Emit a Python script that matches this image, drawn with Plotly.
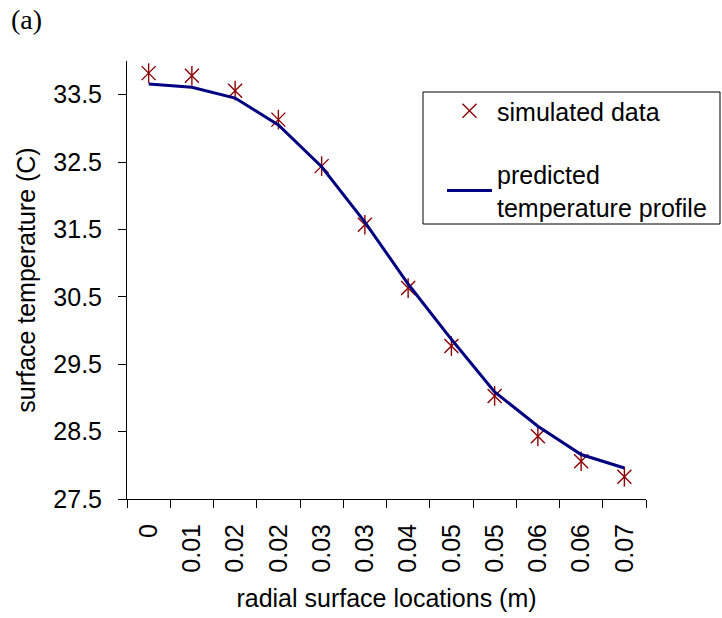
import plotly.graph_objects as go

# ---- data ----
x_labels = ["0", "0.01", "0.02", "0.02", "0.03", "0.03", "0.04", "0.05", "0.05", "0.06", "0.06", "0.07"]
simulated = [33.82, 33.78, 33.56, 33.13, 32.44, 31.57, 30.63, 29.77, 29.03, 28.43, 28.06, 27.83]
predicted = [33.66, 33.61, 33.45, 33.05, 32.43, 31.61, 30.69, 29.87, 29.09, 28.58, 28.16, 27.96]
y_ticks = [27.5, 28.5, 29.5, 30.5, 31.5, 32.5, 33.5]

pos = list(range(len(x_labels)))
bounds = [p - 0.5 for p in pos] + [pos[-1] + 0.5]

FONT = "Liberation Sans, Arial, sans-serif"
FS = 25
RED = "#8B0000"
NAVY = "#000080"

fig = go.Figure()
fig.add_trace(go.Scatter(
    x=pos, y=simulated, mode="markers", name="simulated data",
    legendgroup="a",
    marker=dict(symbol="x-thin-open", size=14, color=RED,
                line=dict(color=RED, width=1.4)),
))
fig.add_trace(go.Scatter(
    x=pos, y=simulated, mode="markers", showlegend=False,
    legendgroup="a",
    marker=dict(symbol="line-ns-open", size=14, color=RED,
                line=dict(color=RED, width=1.4)),
))
fig.add_trace(go.Scatter(
    x=pos, y=predicted, mode="lines", name="predicted<br>temperature profile",
    legendgroup="b",
    line=dict(color=NAVY, width=3),
))

fig.update_layout(
    width=722, height=618,
    margin=dict(l=127, r=76, t=61, b=119, autoexpand=False),
    paper_bgcolor="white", plot_bgcolor="white",
    font=dict(family=FONT, size=FS, color="black"),
    showlegend=True,
    legend=dict(
        x=(442 - 127) / 519, y=(499 - 88) / 438, xanchor="left", yanchor="top",
        borderwidth=0, bgcolor="rgba(0,0,0,0)",
        font=dict(family=FONT, size=FS, color="black"),
        tracegroupgap=28, itemwidth=45,
    ),
    shapes=[dict(
        type="rect", xref="paper", yref="paper",
        x0=(423 - 127) / 519, x1=(720 - 127) / 519,
        y0=(499 - 224) / 438, y1=(499 - 92) / 438,
        line=dict(color="black", width=1), fillcolor="rgba(0,0,0,0)", layer="above",
    )],
    annotations=[dict(
        text="(a)", xref="paper", yref="paper", x=(9 - 127) / 519, y=(499 - 2) / 438,
        xanchor="left", yanchor="top", showarrow=False,
        font=dict(family="Liberation Serif, Times New Roman, serif", size=28, color="black"),
    )],
)

fig.update_xaxes(
    range=[-0.5, len(x_labels) - 0.5],
    tickmode="array", tickvals=pos, ticktext=x_labels, tickangle=-90,
    ticks="outside", ticklen=8, tickcolor="rgba(0,0,0,0)",
    ticklabelstandoff=6,
    minor=dict(tickmode="array", tickvals=bounds, ticks="outside", ticklen=8,
               tickcolor="black", tickwidth=1),
    showline=True, linecolor="black", linewidth=1,
    showgrid=False, zeroline=False,
    tickfont=dict(family=FONT, size=FS),
    title=dict(text="radial surface locations (m)", font=dict(family=FONT, size=FS), standoff=17),
)
fig.update_yaxes(
    range=[27.5, 34.0],
    tickmode="array", tickvals=y_ticks, ticktext=[f"{v:.1f}" for v in y_ticks],
    ticks="outside", ticklen=8, tickcolor="black", tickwidth=1,
    ticklabelstandoff=11,
    showline=True, linecolor="black", linewidth=1,
    showgrid=False, zeroline=False,
    tickfont=dict(family=FONT, size=FS),
    title=dict(text="surface temperature (C)", font=dict(family=FONT, size=FS), standoff=10),
)

fig.write_html("out.html")
